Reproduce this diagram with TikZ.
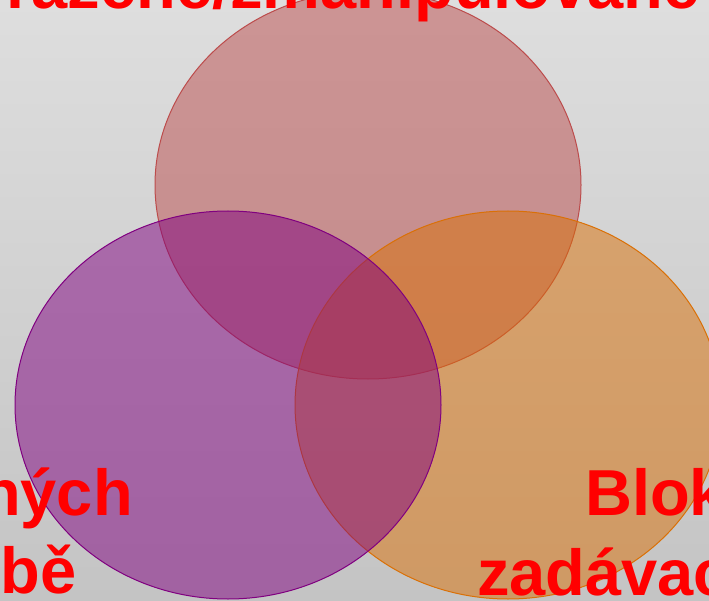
\documentclass[tikz,border=0pt]{standalone}
\usepackage{fontspec}
\setmainfont{Liberation Sans}
\usepackage{tikz}
\usetikzlibrary{shapes.geometric}
\definecolor{bgtop}{RGB}{222,222,222}
\definecolor{bgbot}{RGB}{196,196,196}
\definecolor{setred}{RGB}{188,76,76}
\definecolor{setpurple}{RGB}{128,0,128}
\definecolor{setorange}{RGB}{218,112,6}

\begin{document}
\begin{tikzpicture}[x=1pt, y=-1pt, blob/.style={ellipse,draw,line width=1pt,fill opacity=0.5,inner sep=0pt,minimum width=426pt,minimum height=388pt}, word/.style={text=red,inner sep=0pt,font=\fontsize{65}{78}\selectfont\bfseries}]
        \useasboundingbox (0,0) rectangle (709,601);
        \clip (0,0) rectangle (709,601);
        \shade[top color=bgtop, bottom color=bgbot] (0,0) rectangle (709,601);
        % the three sets
        \node[blob, draw=setred, fill=setred] (c0) at (368,185) {};
        \node[blob, draw=setorange, fill=setorange] (c2) at (508,405) {};
        \node[blob, draw=setpurple, fill=setpurple] (c1) at (228,405) {};
        % labels, cut off by the frame
        \node[word, anchor=base east] (t0) at (700,9) {ražené/zmanipulované};
        \node[word, anchor=base east] (t1) at (133,515) {ných};
        \node[word, anchor=base east] (t2) at (77,593) {bě};
        \node[word, anchor=base west] (t3) at (585,515) {Blok};
        \node[word, anchor=base west] (t4) at (477,595) {zadávac};
    \end{tikzpicture}
\end{document}
